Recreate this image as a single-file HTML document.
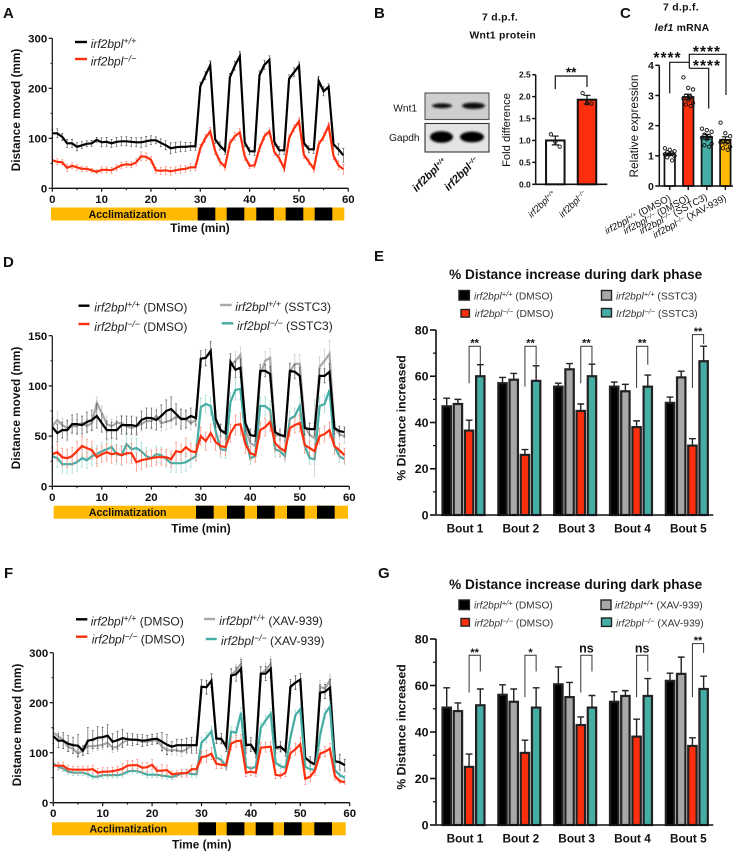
<!DOCTYPE html>
<html lang="en">
<head>
<meta charset="utf-8">
<title>irf2bpl behaviour and Wnt figure</title>
<style>
html,body{margin:0;padding:0;background:#fff;width:740px;height:853px;overflow:hidden}
svg{display:block;filter:blur(.25px)}
text{font-family:"Liberation Sans",Arial,sans-serif;fill:#111}
.b{font-weight:bold}
.i{font-style:italic}
.tl{font-size:11.8px;font-weight:bold}
.lg{font-size:12px;fill:#222}
.lb{font-size:10.2px;fill:#333}
.letter{font-size:15px;font-weight:bold}
</style>
</head>
<body>
<svg id="figure" xmlns="http://www.w3.org/2000/svg" width="740" height="853" viewBox="0 0 740 853">
<defs><filter id="soft" x="-30%" y="-60%" width="160%" height="220%"><feGaussianBlur stdDeviation="1"/></filter></defs>

<!-- Panel letters -->
<text class="letter" x="3" y="18">A</text>
<text class="letter" x="374" y="18">B</text>
<text class="letter" x="620" y="18">C</text>
<text class="letter" x="3" y="267">D</text>
<text class="letter" x="374" y="261">E</text>
<text class="letter" x="4" y="578">F</text>
<text class="letter" x="378" y="578">G</text>

<!-- Panel A -->
<g id="panelA">
  <text class="tl" transform="translate(20,110) rotate(-90)" text-anchor="middle">Distance moved (mm)</text>
  <g>
    <line x1="75" x2="87" y1="42" y2="42" stroke="#000" stroke-width="2.4"/>
    <text class="lg i" x="90.7" y="48">irf2bpl<tspan dy="-4" font-size="9">+/+</tspan></text>
    <line x1="75" x2="87" y1="59" y2="59" stroke="#fe2f0e" stroke-width="2.4"/>
    <text class="lg i" x="90.7" y="65.5">irf2bpl<tspan dy="-4" font-size="9">−/−</tspan></text>
  </g>
  <g>
    <rect x="51" y="207.5" width="293.3" height="13" fill="#ffb900"/>
    <rect x="197.7" y="207.5" width="17.6" height="13" fill="#000"/>
    <rect x="226.7" y="207.5" width="17.6" height="13" fill="#000"/>
    <rect x="256.3" y="207.5" width="17.6" height="13" fill="#000"/>
    <rect x="285.7" y="207.5" width="17.6" height="13" fill="#000"/>
    <rect x="314.7" y="207.5" width="17.6" height="13" fill="#000"/>
    <text class="b" x="127.5" y="218" font-size="10.6" text-anchor="middle">Acclimatization</text>
  </g>
  <text class="tl" x="200" y="232" text-anchor="middle">Time (min)</text>
</g>

<!-- Panel B -->
<g id="panelB">
  <text class="b" x="500" y="20.7" font-size="10.4" letter-spacing=".3" text-anchor="middle">7 d.p.f.</text>
  <text class="b" x="502.7" y="38.5" font-size="10.4" letter-spacing=".25" text-anchor="middle">Wnt1 protein</text>
  <g>
    <rect x="425" y="93" width="64" height="26.5" fill="#cfcfcf" stroke="#555" stroke-width="1.1"/>
    <ellipse cx="442" cy="105.8" rx="10" ry="2.4" fill="#111" filter="url(#soft)"/>
    <ellipse cx="473.5" cy="105.8" rx="11.5" ry="3.2" fill="#111" filter="url(#soft)"/>
    <rect x="425" y="123.5" width="64" height="28.5" fill="#e4e4e4" stroke="#333" stroke-width="1.1"/>
    <ellipse cx="441.5" cy="137" rx="11.5" ry="5.8" fill="#000" filter="url(#soft)"/>
    <ellipse cx="472" cy="137" rx="12" ry="5.4" fill="#000" filter="url(#soft)"/>
    <text x="393.3" y="111.5" font-size="10.2">Wnt1</text>
    <text x="389" y="141" font-size="10.2">Gapdh</text>
    <text class="b i" transform="translate(447,162) rotate(-45)" text-anchor="end" font-size="11">irf2bpl<tspan dy="-3" font-size="6.5">+/+</tspan></text>
    <text class="b i" transform="translate(479,161) rotate(-45)" text-anchor="end" font-size="11">irf2bpl<tspan dy="-3" font-size="6.5">−/−</tspan></text>
  </g>
  <text transform="translate(510,130) rotate(-90)" text-anchor="middle" font-size="11.2">Fold difference</text>
  <text class="i" transform="translate(556,194) rotate(-45)" text-anchor="end" font-size="9.4">irf2bpl<tspan dy="-2.5" font-size="6">+/+</tspan></text>
  <text class="i" transform="translate(587,194) rotate(-45)" text-anchor="end" font-size="9.4">irf2bpl<tspan dy="-2.5" font-size="6">−/−</tspan></text>
</g>

<!-- Panel C -->
<g id="panelC">
  <text class="b" x="681" y="10.5" font-size="10.4" letter-spacing=".3" text-anchor="middle">7 d.p.f.</text>
  <text class="b" x="682" y="31" font-size="10.4" letter-spacing=".25" text-anchor="middle"><tspan font-style="italic">lef1</tspan> mRNA</text>
  <text transform="translate(638,126) rotate(-90)" text-anchor="middle" font-size="11.8">Relative expression</text>
  <text transform="translate(671.5,200) rotate(-28)" text-anchor="end" font-size="9.6"><tspan font-style="italic">irf2bpl<tspan dy="-2.5" font-size="6.4">+/+</tspan></tspan><tspan dy="2.5"> (DMSO)</tspan></text>
  <text transform="translate(690,200) rotate(-28)" text-anchor="end" font-size="9.6"><tspan font-style="italic">irf2bpl<tspan dy="-2.5" font-size="6.4">−/−</tspan></tspan><tspan dy="2.5"> (DMSO)</tspan></text>
  <text transform="translate(708,199) rotate(-28)" text-anchor="end" font-size="9.6"><tspan font-style="italic">irf2bpl<tspan dy="-2.5" font-size="6.4">−/−</tspan></tspan><tspan dy="2.5"> (SSTC3)</tspan></text>
  <text transform="translate(727,200) rotate(-28)" text-anchor="end" font-size="9.6"><tspan font-style="italic">irf2bpl<tspan dy="-2.5" font-size="6.4">−/−</tspan></tspan><tspan dy="2.5"> (XAV-939)</tspan></text>
  <g>
    <path d="M669.7 93.3V62.3H689.3" fill="none" stroke="#111" stroke-width="1.2"/>
    <path d="M689.3 68.3H708.7V108.5" fill="none" stroke="#111" stroke-width="1.2"/>
    <path d="M689.3 68.3V54.3H726V95" fill="none" stroke="#111" stroke-width="1.2"/>
    <text class="b" x="667.5" y="63" font-size="15.5" text-anchor="middle" letter-spacing="1">****</text>
    <text class="b" x="707" y="57" font-size="15.5" text-anchor="middle" letter-spacing="1">****</text>
    <text class="b" x="707" y="71" font-size="15.5" text-anchor="middle" letter-spacing="1">****</text>
  </g>
</g>

<!-- Panel D -->
<g id="panelD">
  <text class="tl" transform="translate(20,408) rotate(-90)" text-anchor="middle">Distance moved (mm)</text>
  <g>
    <line x1="78.5" x2="89.5" y1="305.7" y2="305.7" stroke="#000" stroke-width="2.4"/>
    <text class="lg" x="94.3" y="311.7"><tspan font-style="italic">irf2bpl<tspan dy="-4" font-size="9">+/+</tspan></tspan><tspan dy="4"> (DMSO)</tspan></text>
    <line x1="78.5" x2="89.5" y1="324" y2="324" stroke="#fe2f0e" stroke-width="2.4"/>
    <text class="lg" x="94.3" y="331"><tspan font-style="italic">irf2bpl<tspan dy="-4" font-size="9">−/−</tspan></tspan><tspan dy="4"> (DMSO)</tspan></text>
    <line x1="220" x2="231.7" y1="305" y2="305" stroke="#a8a8a8" stroke-width="2.4"/>
    <text class="lg" x="235.3" y="311"><tspan font-style="italic">irf2bpl<tspan dy="-4" font-size="9">+/+</tspan></tspan><tspan dy="4"> (SSTC3)</tspan></text>
    <line x1="221.7" x2="233.3" y1="323.3" y2="323.3" stroke="#45ada4" stroke-width="2.4"/>
    <text class="lg" x="237" y="330"><tspan font-style="italic">irf2bpl<tspan dy="-4" font-size="9">−/−</tspan></tspan><tspan dy="4"> (SSTC3)</tspan></text>
  </g>
  <g>
    <rect x="53.7" y="505.7" width="294.3" height="13" fill="#ffb900"/>
    <rect x="196" y="505.7" width="17.7" height="13" fill="#000"/>
    <rect x="227" y="505.7" width="17.7" height="13" fill="#000"/>
    <rect x="257" y="505.7" width="17.7" height="13" fill="#000"/>
    <rect x="287" y="505.7" width="17.7" height="13" fill="#000"/>
    <rect x="317" y="505.7" width="17.7" height="13" fill="#000"/>
    <text class="b" x="127.7" y="516" font-size="10.6" text-anchor="middle">Acclimatization</text>
  </g>
  <text class="tl" x="201" y="532.5" text-anchor="middle">Time (min)</text>
</g>

<!-- Panel E -->
<g id="panelE">
  <text class="b" x="575.7" y="279" font-size="13.6" text-anchor="middle">% Distance increase during dark phase</text>
  <text class="tl" transform="translate(405.5,418) rotate(-90)" text-anchor="middle" style="font-size:12.2px">% Distance increased</text>
  <g>
    <rect x="459" y="290.5" width="10.4" height="9.6" fill="#000" stroke="#222" stroke-width="1.4"/>
    <text class="lb" x="474" y="299.3"><tspan font-style="italic">irf2bpl<tspan dy="-3" font-size="7.5">+/+</tspan></tspan><tspan dy="3"> (DMSO)</tspan></text>
    <rect x="461" y="309.5" width="8.4" height="7.6" fill="#fe2f0e" stroke="#222" stroke-width="1.4"/>
    <text class="lb" x="474.7" y="317"><tspan font-style="italic">irf2bpl<tspan dy="-3" font-size="7.5">−/−</tspan></tspan><tspan dy="3"> (DMSO)</tspan></text>
    <rect x="601.5" y="290.5" width="10" height="9.6" fill="#a8a8a8" stroke="#222" stroke-width="1.4"/>
    <text class="lb" x="616" y="299.3"><tspan font-style="italic">irf2bpl<tspan dy="-3" font-size="7.5">+/+</tspan></tspan><tspan dy="3"> (SSTC3)</tspan></text>
    <rect x="601.5" y="308.5" width="10" height="8.4" fill="#45ada4" stroke="#222" stroke-width="1.4"/>
    <text class="lb" x="616" y="317"><tspan font-style="italic">Irf2bpl<tspan dy="-3" font-size="7.5">−/−</tspan></tspan><tspan dy="3"> (SSTC3)</tspan></text>
  </g>
</g>

<!-- Panel F -->
<g id="panelF">
  <text class="tl" transform="translate(21,725) rotate(-90)" text-anchor="middle">Distance moved (mm)</text>
  <g>
    <line x1="76" x2="87.3" y1="619.3" y2="619.3" stroke="#000" stroke-width="2.4"/>
    <text class="lg" x="90.7" y="625.3"><tspan font-style="italic">irf2bpl<tspan dy="-4" font-size="9">+/+</tspan></tspan><tspan dy="4"> (DMSO)</tspan></text>
    <line x1="76" x2="87.3" y1="636.7" y2="636.7" stroke="#fe2f0e" stroke-width="2.4"/>
    <text class="lg" x="91.7" y="643.3"><tspan font-style="italic">irf2bpl<tspan dy="-4" font-size="9">−/−</tspan></tspan><tspan dy="4"> (DMSO)</tspan></text>
    <line x1="204" x2="215" y1="619" y2="619" stroke="#a8a8a8" stroke-width="2.4"/>
    <text class="lg" x="219.3" y="625"><tspan font-style="italic">irf2bpl<tspan dy="-4" font-size="9">+/+</tspan></tspan><tspan dy="4"> (XAV-939)</tspan></text>
    <line x1="205.7" x2="216.7" y1="639" y2="639" stroke="#45ada4" stroke-width="2.4"/>
    <text class="lg" x="221" y="645"><tspan font-style="italic">irf2bpl<tspan dy="-4" font-size="9">−/−</tspan></tspan><tspan dy="4"> (XAV-939)</tspan></text>
  </g>
  <g>
    <rect x="52" y="822.3" width="293.7" height="13" fill="#ffb900"/>
    <rect x="198.3" y="822.3" width="17.7" height="13" fill="#000"/>
    <rect x="226.7" y="822.3" width="17.7" height="13" fill="#000"/>
    <rect x="255.7" y="822.3" width="17.7" height="13" fill="#000"/>
    <rect x="284" y="822.3" width="17.7" height="13" fill="#000"/>
    <rect x="314.3" y="822.3" width="17.7" height="13" fill="#000"/>
    <text class="b" x="128.3" y="832.7" font-size="10.6" text-anchor="middle">Acclimatization</text>
  </g>
  <text class="tl" x="201.7" y="848.5" text-anchor="middle">Time (min)</text>
</g>

<!-- Panel G -->
<g id="panelG">
  <text class="b" x="575.7" y="589" font-size="13.6" text-anchor="middle">% Distance increase during dark phase</text>
  <text class="tl" transform="translate(405.5,727) rotate(-90)" text-anchor="middle" style="font-size:12.2px">% Distance increased</text>
  <g>
    <rect x="459" y="600" width="10.4" height="9.6" fill="#000" stroke="#222" stroke-width="1.4"/>
    <text class="lb" x="474" y="608.7"><tspan font-style="italic">irf2bpl<tspan dy="-3" font-size="7.5">+/+</tspan></tspan><tspan dy="3"> (DMSO)</tspan></text>
    <rect x="461" y="618.5" width="8.4" height="7.6" fill="#fe2f0e" stroke="#222" stroke-width="1.4"/>
    <text class="lb" x="474.5" y="626.3"><tspan font-style="italic">irf2bpl<tspan dy="-3" font-size="7.5">−/−</tspan></tspan><tspan dy="3"> (DMSO)</tspan></text>
    <rect x="601" y="600" width="10" height="9.6" fill="#a8a8a8" stroke="#222" stroke-width="1.4"/>
    <text class="lb" x="615" y="608.7"><tspan font-style="italic">irf2bpl<tspan dy="-3" font-size="7.5">+/+</tspan></tspan><tspan dy="3"> (XAV-939)</tspan></text>
    <rect x="601.5" y="618" width="10" height="8.4" fill="#45ada4" stroke="#222" stroke-width="1.4"/>
    <text class="lb" x="616" y="626.3"><tspan font-style="italic">irf2bpl<tspan dy="-3" font-size="7.5">−/−</tspan></tspan><tspan dy="3"> (XAV-939)</tspan></text>
  </g>
</g>
</svg>

<script>
// ---- Panel A data
const aWt=[110,110,103,90,90,83,86,89,90,97,92,93,90,93,94,94,93,92,92,94,96,96,91,86,80,82,83,83,84,84,204,225,246,98,85,75,222,245,264,92,74,74,226,247,257,93,76,76,219,232,245,91,78,78,215,194,203,88,78,66];
const aWtErr=[8,9,7,8,8,8,7,6,6,5,9,9,8,9,9,9,9,9,10,10,9,7,8,9,11,10,10,9,8,8,8,8,9,8,8,7,8,9,10,9,7,8,9,9,8,9,8,8,8,9,8,7,7,8,9,9,6,10,11,14];
const aKo=[56,53,52,41,45,42,39,39,36,33,37,37,36,41,46,48,47,52,64,63,57,36,35,36,34,36,38,39,42,42,80,100,114,75,53,43,90,104,112,64,45,46,80,104,114,73,60,40,100,120,134,67,53,39,88,103,125,65,46,38];
const aKoErr=[7,6,5,7,6,6,5,5,4,4,6,6,6,6,6,6,6,7,9,8,7,6,7,8,8,7,8,7,7,6,8,8,8,8,7,7,8,8,8,8,5,5,7,7,7,7,7,7,7,7,7,7,6,7,7,8,7,8,9,10];
// ---- Panel D data
const dWt=[59,53,56,56,62,62,61,64,66,70,63,56,56,56,61,61,61,60,66,68,68,66,70,75,77,72,67,67,70,68,127,128,135,67,56,53,124,116,118,63,51,50,115,115,112,54,51,50,115,114,110,58,57,57,110,110,114,58,55,54];
const dWtErr=[9,9,8,10,9,10,9,10,10,12,9,9,8,9,9,9,9,9,9,10,10,10,11,11,12,10,10,9,8,7,8,8,9,8,6,6,8,8,9,8,6,5,6,6,7,6,5,5,7,7,8,7,6,6,7,7,8,6,5,5];
const dGray=[60,66,61,58,60,60,63,60,63,83,73,62,60,63,63,60,58,60,62,65,65,70,63,64,66,69,68,67,63,66,127,128,133,65,55,52,120,125,131,58,43,40,110,125,128,50,52,49,114,122,122,60,51,48,119,125,132,58,52,50];
const dGrayErr=[6,8,7,6,7,7,7,7,8,6,7,8,7,7,8,7,7,7,7,7,8,8,8,8,8,8,8,8,7,7,8,8,9,7,6,6,9,9,8,8,6,6,8,9,9,7,6,6,9,9,9,7,6,38,10,11,13,8,6,7];
const dKo=[32,34,29,28,30,35,40,38,36,29,32,34,32,33,31,33,33,24,26,27,28,29,29,29,27,35,34,39,35,34,50,45,53,44,40,39,53,61,62,42,33,31,56,59,64,43,38,35,58,61,63,41,38,35,50,52,56,40,36,31];
const dKoErr=[7,8,9,9,9,10,10,9,9,9,8,9,9,8,9,9,10,9,9,8,8,8,8,8,8,9,8,9,8,8,9,9,9,8,8,8,9,10,11,9,7,7,8,9,9,8,8,8,8,8,9,8,7,7,8,8,8,8,7,7];
const dTeal=[30,28,22,22,22,24,28,26,30,32,35,37,39,32,31,42,37,38,35,30,28,32,31,27,23,23,23,24,27,30,79,82,80,55,37,36,84,96,97,50,28,30,80,80,76,37,35,30,67,70,80,40,28,27,80,82,96,40,30,27];
const dTealErr=[8,9,9,9,9,9,9,8,9,9,9,9,9,10,10,11,11,10,9,9,8,8,8,8,9,9,9,9,8,5,9,9,9,9,8,8,9,10,11,9,6,6,9,9,9,8,6,6,8,8,9,7,6,5,9,9,9,8,6,5];
// ---- Panel F data
const fWt=[133,124,124,118,115,114,104,124,126,130,131,134,122,125,129,127,126,126,124,125,127,128,122,116,112,115,115,115,115,115,232,231,244,128,128,112,254,257,268,115,116,100,258,258,268,110,112,103,232,240,246,90,82,76,220,222,230,83,81,75];
const fWtErr=[15,14,16,16,16,22,10,26,18,22,20,22,16,18,18,12,12,10,12,10,10,10,18,20,10,12,12,14,16,16,14,14,14,10,10,10,14,14,18,16,14,10,14,14,18,12,10,10,14,14,12,14,10,6,16,14,16,12,16,12];
const fGray=[140,133,125,112,108,98,105,113,113,114,116,120,110,112,120,125,126,125,122,122,124,125,112,105,105,105,102,107,115,115,232,231,244,130,125,115,255,265,278,118,115,105,258,265,278,108,108,105,230,240,246,90,80,76,232,228,245,83,80,75];
const fGrayErr=[10,10,10,10,10,8,8,10,10,10,10,10,10,10,10,8,8,8,8,8,8,8,10,10,10,10,10,10,10,10,12,12,12,8,8,8,12,12,12,10,10,8,12,14,14,8,8,8,12,12,12,8,8,6,12,12,12,8,8,8];
const fKo=[74,74,74,67,66,66,66,66,67,60,62,62,63,65,68,74,75,75,70,71,76,64,64,65,57,58,59,59,67,67,91,93,98,78,76,75,118,123,124,60,62,60,110,111,112,56,54,60,99,107,117,48,52,65,98,102,108,53,43,41];
const fKoErr=[7,7,7,7,7,7,7,7,8,8,8,8,8,8,10,10,10,12,10,10,10,8,12,10,6,6,8,8,8,8,12,12,12,10,8,8,12,12,12,8,8,8,10,10,10,8,6,8,10,12,14,12,10,10,8,10,10,8,4,4];
const fTeal=[78,72,68,62,60,60,60,57,52,52,55,55,55,55,57,62,64,63,60,56,56,56,54,53,51,55,58,60,57,57,120,130,143,90,86,72,142,140,180,73,68,72,150,165,178,80,73,70,130,175,187,72,67,66,135,178,192,65,55,50];
const fTealErr=[8,7,6,6,6,6,6,6,5,5,6,6,6,6,6,5,5,5,5,6,6,6,6,6,5,5,5,6,6,6,10,10,10,8,8,8,10,10,10,6,5,5,10,10,10,6,5,5,10,10,10,6,5,5,10,10,10,5,5,4];
// ---- Shared axis labels
const timeTicks=[0,10,20,30,40,50,60];
const tickA=[0,100,200,300];
const tickD=[0,50,100,150];
const percentTicks=[0,20,40,60,80];
const bouts=['Bout 1','Bout 2','Bout 3','Bout 4','Bout 5'];
// ---- Panel E data
const eWt=[47,57,55.5,55.5,48.5];
const eWtErr=[3.5,2.5,1.5,2,2.5];
const eGray=[48,58.5,63,53.5,59.5];
const eGrayErr=[2,2.7,2.5,3,2.7];
const eKo=[36.5,26,45,38,30];
const eKoErr=[4.5,2.3,3,2.7,3];
const eTeal=[60,58,60,55.5,66.5];
const eTealErr=[5,6.5,5.2,5,6.5];
const eSig=['**','**','**','**','**'];
const eBracketTop=[73,73,73,73,78];
const eBracketLeft=[57,55.5,57,55,55];
const eBracketRight=[65,65,65,65,74];
// ---- Panel G data
const gWt=[50.5,56,60.5,53,62];
const gWtErr=[8.5,4.3,7.5,4.3,3.3];
const gGray=[49,53,55,55.5,65];
const gGrayErr=[3.5,5.5,6.3,2.3,7.2];
const gKo=[25,31,43,38,34];
const gKoErr=[5.5,5.5,3.5,7.5,3.5];
const gTeal=[51.5,50.5,50.5,55.5,58.5];
const gTealErr=[7,8.5,5.2,7.5,5.5];
const gSig=['**','*','ns','ns','**'];
const gBracketTop=[73,73,73,73,78];
const gBracketLeft=[57,55,57,55,55];
const gBracketRight=[66,66,66,66,74];
// ---- Panel B data
const bCategories=['wt','ko'];
const bMeans=[1.0,1.93];
const bErrs=[0.1,0.1];
const bPoints=[[1.14,0.97,0.86],[2.08,1.85,1.84]];
const bTicks=['0.0','0.5','1.0','1.5','2.0','2.5'];
// ---- Panel C data
const cCategories=['wt-dmso','ko-dmso','ko-sstc3','ko-xav'];
const cMeans=[1.05,2.95,1.63,1.53];
const cErrs=[0.04,0.09,0.08,0.1];
const cPoints=[
  [1.25,1.2,1.15,1.12,1.1,1.05,1.05,1.0,0.95,0.85],
  [3.6,3.25,3.2,3.0,2.95,2.9,2.85,2.75,2.7,2.65],
  [1.9,1.85,1.8,1.7,1.65,1.6,1.55,1.4,1.35,1.3],
  [2.1,1.75,1.65,1.5,1.45,1.45,1.4,1.3,1.25,1.2]
];
const cTicks=[0,1,2,3,4];

const RED='#fe2f0e',TEAL='#45ada4',GRAY='#a8a8a8',YEL='#ffb900';
const NS='http://www.w3.org/2000/svg';
function make(tag,parent,props,txt){
  const el=document.createElementNS(NS,tag);
  for(const k in props) el.setAttribute(k,props[k]);
  if(txt!==undefined) el.textContent=txt;
  parent.appendChild(el);
  return el;
}
function scale(d0,d1,p0,p1){return v=>p0+(v-d0)/(d1-d0)*(p1-p0);}

function yAxis(g,x,y,ticks,minors,top,opt){
  const ax=make('line',g,{x1:x,x2:x,y1:y(top),y2:y(0)-0.7,stroke:'#111','stroke-width':opt.w});
  
  
  ticks.forEach(t=>{
    const v=typeof t==='string'?parseFloat(t):t;
    const m=make('line',g,{x1:x-opt.tick,x2:x,y1:y(v),y2:y(v),stroke:'#111','stroke-width':opt.w});
    
    
    const l=make('text',g,{x:x-opt.tick-1.5,y:y(v)+opt.fs*0.36,'text-anchor':'end','font-size':opt.fs,'font-weight':'bold'},t);
    
    
  });
  minors.forEach(v=>{
    const m=make('line',g,{x1:x-opt.tick/2,x2:x,y1:y(v),y2:y(v),stroke:'#111','stroke-width':opt.w*0.8});
    
    
  });
}
function seriesDraw(g,name,x,y,vals,errs,color,errColor){
  vals.forEach((v,i)=>{
    const e=make('path',g,{d:`M${x(i)-1} ${y(v+errs[i])}h2M${x(i)} ${y(v+errs[i])}V${y(v-errs[i])}M${x(i)-1} ${y(v-errs[i])}h2`,stroke:errColor,'stroke-width':0.6,fill:'none'});
    
    
  });
  const d=vals.map((v,i)=>(i?'L':'M')+x(i).toFixed(1)+' '+y(v).toFixed(1)).join('');
  const p=make('path',g,{d:d,fill:'none',stroke:color,'stroke-width':2.2,'stroke-linejoin':'miter'});
  
  
}
function timeAxis(g,x,base,lblY){
  const ax=make('line',g,{x1:x(0),x2:x(60),y1:base,y2:base,stroke:'#111','stroke-width':1.3});
  
  
  timeTicks.forEach(t=>{
    const m=make('line',g,{x1:x(t),x2:x(t),y1:base,y2:base+3.4,stroke:'#111','stroke-width':1.2});
    
    
    const l=make('text',g,{x:x(t),y:lblY,'text-anchor':'middle','font-size':11.4,'font-weight':'bold'},t);
    
    
    if(t<60){
      const n=make('line',g,{x1:x(t+5),x2:x(t+5),y1:base,y2:base+1.9,stroke:'#111','stroke-width':1});
      
      
    }
  });
}

// ---- Line panels
(function(){
  const gA=document.getElementById('panelA');
  const xA=scale(0,60,52.3,348.3), yA=scale(0,300,188.3,38.3);
  seriesDraw(gA,'wt',xA,yA,aWt,aWtErr,'#000','#444');
  seriesDraw(gA,'ko',xA,yA,aKo,aKoErr,RED,'#fb7a66');
  yAxis(gA,52.3,yA,tickA,[50,150,250],300,{w:1.2,tick:3.6,fs:11.4});
  timeAxis(gA,xA,188.3,203);

  const gD=document.getElementById('panelD');
  const xD=scale(0,60,52.3,349.3), yD=scale(0,150,486.3,335.7);
  seriesDraw(gD,'wt-sstc3',xD,yD,dGray,dGrayErr,GRAY,'#bdbdbd');
  seriesDraw(gD,'ko-sstc3',xD,yD,dTeal,dTealErr,TEAL,'#8ad0ca');
  seriesDraw(gD,'wt-dmso',xD,yD,dWt,dWtErr,'#000','#444');
  seriesDraw(gD,'ko-dmso',xD,yD,dKo,dKoErr,RED,'#fb7a66');
  yAxis(gD,52.3,yD,tickD,[25,75,125],150,{w:1.2,tick:3.6,fs:11.4});
  timeAxis(gD,xD,486.3,501);

  const gF=document.getElementById('panelF');
  const xF=scale(0,60,53.3,349.7), yF=scale(0,300,802.7,652.7);
  seriesDraw(gF,'wt-xav',xF,yF,fGray,fGrayErr,GRAY,'#bdbdbd');
  seriesDraw(gF,'wt-dmso',xF,yF,fWt,fWtErr,'#000','#444');
  seriesDraw(gF,'ko-xav',xF,yF,fTeal,fTealErr,TEAL,'#8ad0ca');
  seriesDraw(gF,'ko-dmso',xF,yF,fKo,fKoErr,RED,'#fb7a66');
  yAxis(gF,53.3,yF,tickA,[50,150,250],300,{w:1.2,tick:3.6,fs:11.4});
  timeAxis(gF,xF,802.7,817);
})();

// ---- Grouped bar panels
function barPanel(g,y0,y80,series,sig,top,left,right){
  const y=scale(0,80,y0,y80);
  const x0=446.7,step=55.83,sp=11.2;
  const cx=(b,s)=>x0+b*step+s*sp;
  series.forEach((s,si)=>{
    s.vals.forEach((v,b)=>{
      const e=make('path',g,{d:`M${cx(b,si)} ${y(v)}V${y(v+s.errs[b])}M${cx(b,si)-3.4} ${y(v+s.errs[b])}h6.8`,stroke:'#222','stroke-width':1.4,fill:'none'});
      
      
      const r=make('rect',g,{x:cx(b,si)-4.2,y:y(v),width:8.4,height:y(0)-y(v),fill:s.color,stroke:'#222','stroke-width':2.2});
      
      
    });
  });
  bouts.forEach((b,i)=>{
    const a=cx(i,2),c=cx(i,3);
    const p=make('path',g,{d:`M${a} ${y(left[i])}V${y(top[i])}H${c}V${y(right[i])}`,fill:'none',stroke:'#333','stroke-width':1});
    
    
    const isNs=sig[i]==='ns';
    const t=make('text',g,{x:(a+c)/2,y:y(top[i])-(isNs?3:-0.5),'text-anchor':'middle','font-size':isNs?12.5:11,'font-weight':'bold'},sig[i]);
    
    
    const l=make('text',g,{x:x0+i*step+18.3,y:y(0)+17.5,'text-anchor':'middle','font-size':11.8,'font-weight':'bold'},b);
    
    
  });
  const ax=make('line',g,{x1:436,x2:713.3,y1:y(0),y2:y(0),stroke:'#111','stroke-width':1.6});
  
  
  yAxis(g,436,y,percentTicks,[10,30,50,70],80,{w:1.6,tick:6,fs:12.4});
}
barPanel(document.getElementById('panelE'),515,330,[
  {name:'wt-dmso',vals:eWt,errs:eWtErr,color:'#000'},
  {name:'wt-sstc3',vals:eGray,errs:eGrayErr,color:GRAY},
  {name:'ko-dmso',vals:eKo,errs:eKoErr,color:RED},
  {name:'ko-sstc3',vals:eTeal,errs:eTealErr,color:TEAL}
],eSig,eBracketTop,eBracketLeft,eBracketRight);
barPanel(document.getElementById('panelG'),825,639,[
  {name:'wt-dmso',vals:gWt,errs:gWtErr,color:'#000'},
  {name:'wt-xav',vals:gGray,errs:gGrayErr,color:GRAY},
  {name:'ko-dmso',vals:gKo,errs:gKoErr,color:RED},
  {name:'ko-xav',vals:gTeal,errs:gTealErr,color:TEAL}
],gSig,gBracketTop,gBracketLeft,gBracketRight);

// ---- Dot-and-bar panels B & C
function dotBars(g,cats,means,errs,points,colors,x,y,bw,spread,capw,sw){
  cats.forEach((c,i)=>{
    const r=make('rect',g,{x:x(i)-bw/2,y:y(means[i]),width:bw,height:y(0)-y(means[i]),fill:colors[i],stroke:'#111','stroke-width':sw});
    
    
    const e=make('path',g,{d:`M${x(i)} ${y(means[i]-errs[i])}V${y(means[i]+errs[i])}M${x(i)-capw/2} ${y(means[i]+errs[i])}h${capw}M${x(i)-capw/2} ${y(means[i]-errs[i])}h${capw}`,stroke:'#111','stroke-width':1.2,fill:'none'});
    
    
    points[i].forEach((v,j)=>{
      const off=((j*2)%5-2)*spread;
      const d=make('circle',g,{cx:x(i)+off,cy:y(v),r:1.7,fill:'none',stroke:'#111','stroke-width':0.9});
      
      
    });
  });
}
(function(){
  const gB=document.getElementById('panelB');
  const yB=scale(0,2.5,184.3,74.7);
  const xB=i=>555.3+i*31.7;
  dotBars(gB,bCategories,bMeans,bErrs,bPoints,['#fff',RED],xB,yB,18.5,2.2,7,2);
  const ax=make('line',gB,{x1:535.7,x2:607.3,y1:184.3,y2:184.3,stroke:'#111','stroke-width':1.6});
  
  
  yAxis(gB,535.7,yB,bTicks,[],2.5,{w:1.5,tick:3.5,fs:8.4});
  const br=make('path',gB,{d:`M${xB(0)} ${yB(2.17)}V${yB(2.47)}H${xB(1)}V${yB(2.22)}`,fill:'none',stroke:'#111','stroke-width':1.2});
  
  
  const st=make('text',gB,{x:(xB(0)+xB(1))/2,y:yB(2.47)+1,'text-anchor':'middle','font-size':13.5,'font-weight':'bold'},'**');
  
  

  const gC=document.getElementById('panelC');
  const yC=scale(0,4,186,65.3);
  const xC=i=>669.7+i*18.55;
  dotBars(gC,cCategories,cMeans,cErrs,cPoints,['#fff',RED,TEAL,YEL],xC,yC,10.5,2.4,7,1.7);
  const ax2=make('line',gC,{x1:659.3,x2:733,y1:186,y2:186,stroke:'#111','stroke-width':1.5});
  
  
  cCategories.forEach((c,i)=>{
    const t=make('line',gC,{x1:xC(i),x2:xC(i),y1:186,y2:190,stroke:'#111','stroke-width':1.4});
    
    
  });
  yAxis(gC,659.3,yC,cTicks,[],4,{w:1.5,tick:4,fs:10.5});
})();
</script>
</body>
</html>
